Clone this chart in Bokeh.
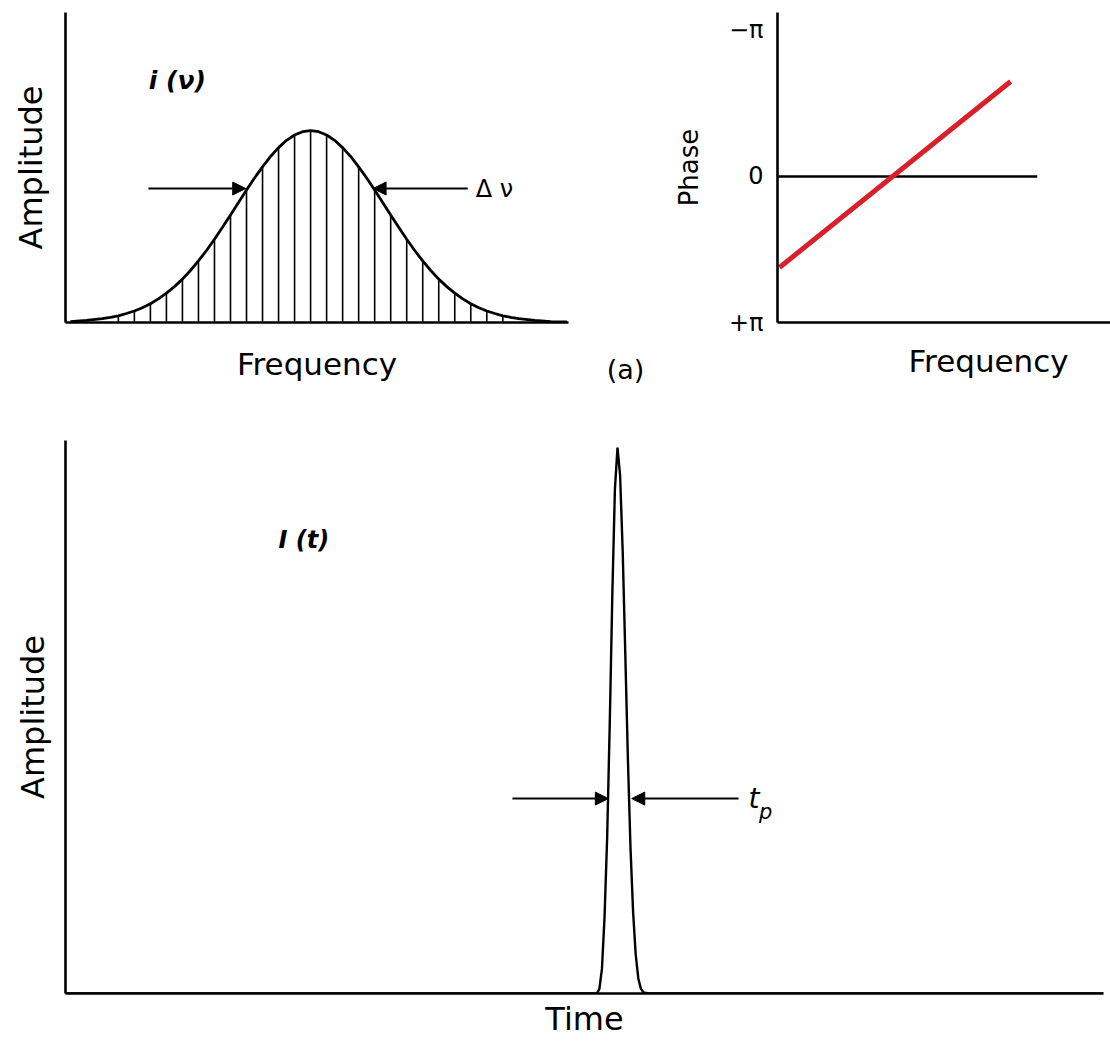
from bokeh.plotting import figure
from bokeh.models import Range1d, Arrow, NormalHead, Label, Title
from bokeh.layouts import column, row
from bokeh.embed import file_html
from bokeh.resources import INLINE

FONT = "DejaVu Sans"

# ---------------- data ----------------
# (a) left: spectrum i(nu) -- longitudinal modes (in units of mode spacing)
mode_freq = [-12, -11, -10, -9, -8, -7, -6, -5, -4, -3, -2, -1, 0,
             1, 2, 3, 4, 5, 6, 7, 8, 9, 10, 11, 12]
mode_amp = [0.035, 0.060, 0.098, 0.153, 0.226, 0.321, 0.434, 0.560, 0.690,
            0.811, 0.911, 0.977, 1.000, 0.977, 0.911, 0.811, 0.690, 0.560,
            0.434, 0.321, 0.226, 0.153, 0.098, 0.060, 0.035]

env_freq = [-15, -14, -13, -12.5, -12, -11.5, -11, -10.5, -10, -9.5, -9, -8.5,
            -8, -7.5, -7, -6.5, -6, -5.5, -5, -4.5, -4, -3.5, -3, -2.5, -2,
            -1.5, -1, -0.5, 0, 0.5, 1, 1.5, 2, 2.5, 3, 3.5, 4, 4.5, 5, 5.5, 6,
            6.5, 7, 7.5, 8, 8.5, 9, 9.5, 10, 10.5, 11, 11.5, 12, 12.5, 13, 14,
            15, 16]
env_amp = [0.005, 0.011, 0.020, 0.027, 0.035, 0.047, 0.060, 0.077, 0.098,
           0.123, 0.153, 0.187, 0.226, 0.271, 0.321, 0.375, 0.434, 0.496,
           0.560, 0.625, 0.690, 0.753, 0.811, 0.865, 0.911, 0.949, 0.977,
           0.994, 1.000, 0.994, 0.977, 0.949, 0.911, 0.865, 0.811, 0.753,
           0.690, 0.625, 0.560, 0.496, 0.434, 0.375, 0.321, 0.271, 0.226,
           0.187, 0.153, 0.123, 0.098, 0.077, 0.060, 0.047, 0.035, 0.027,
           0.020, 0.011, 0.005, 0.003]

# (a) right: phase (in units of pi) vs frequency (0..1)
phase_freq = [0.006, 0.70]
phase_val = [0.623, -0.65]
zero_freq = [0.0, 0.78]
zero_val = [0.0, 0.0]
phase_ticks = [-1, 0, 1]
phase_tick_labels = {-1: "\u2212\u03c0", 0: "0", 1: "+\u03c0"}

# bottom: pulse I(t)
pulse_t = [0, 51.18, 51.43, 51.68, 51.93, 52.18, 52.43, 52.68, 52.93,
           53.18, 53.43, 53.68, 53.93, 54.18, 54.43, 54.68, 54.93, 55.18,
           55.43, 55.68, 56.18, 100]
pulse_amp = [0, 0, 0.008, 0.045, 0.140, 0.284, 0.492, 0.730, 0.924,
             1.000, 0.949, 0.810, 0.622, 0.430, 0.268, 0.150, 0.072, 0.028,
             0.009, 0.002, 0, 0]

HAS_STANDOFF = "standoff" in Title.properties()


def style_axis(ax, label_size="32px"):
    ax.axis_line_color = "black"
    ax.axis_line_width = 2.6
    ax.major_tick_line_color = None
    ax.minor_tick_line_color = None
    ax.axis_label_text_font = FONT
    ax.axis_label_text_font_style = "normal"
    ax.axis_label_text_font_size = label_size
    ax.axis_label_text_color = "black"


def base_fig(**kw):
    p = figure(output_backend="svg", toolbar_location=None, **kw)
    p.grid.visible = False
    p.outline_line_color = None
    p.background_fill_color = "white"
    p.border_fill_color = "white"
    return p


def arrow(p, x0, x1, y):
    p.add_layout(Arrow(end=NormalHead(size=13, fill_color="black",
                                      line_color="black", line_width=1),
                       x_start=x0, y_start=y, x_end=x1, y_end=y,
                       line_color="black", line_width=2))


def label(p, x, y, text, size, style="normal", align="left"):
    p.add_layout(Label(x=x, y=y, text=text, text_font=FONT,
                       text_font_size=size, text_font_style=style,
                       text_align=align, text_baseline="middle",
                       text_color="black"))


def title_below(p, text, size, align, offset, standoff):
    kw = dict(text=text, align=align, offset=offset, text_font=FONT,
              text_font_size=size, text_font_style="normal",
              text_color="black")
    if HAS_STANDOFF:
        kw["standoff"] = standoff
    p.add_layout(Title(**kw), "below")


TOP_H = 417      # height of the top row
TOP_BB = 95      # bottom border of the top row

# ---------------- top-left: spectrum ----------------
p1 = base_fig(width=600, height=TOP_H,
              x_range=Range1d(-15.3, 16.1), y_range=Range1d(0, 1.615),
              min_border_left=65, min_border_right=32,
              min_border_top=12, min_border_bottom=TOP_BB)
for ax in (p1.xaxis[0], p1.yaxis[0]):
    style_axis(ax)
    ax.ticker = []
p1.xaxis.axis_label = "Frequency"
p1.xaxis.axis_label_text_font_size = "31px"
p1.yaxis.axis_label = "Amplitude"
p1.xaxis.axis_label_standoff = 23
p1.yaxis.axis_label_standoff = 16
p1.segment(x0=mode_freq, y0=[0] * len(mode_freq), x1=mode_freq, y1=mode_amp,
           line_color="black", line_width=1.6)
p1.line(env_freq, env_amp, line_color="black", line_width=2.8)
arrow(p1, -10.125, -4.05, 0.698)
arrow(p1, 9.81, 3.9, 0.698)
label(p1, -10.1, 1.26, "i (\u03bd)", "25px", style="bold italic")
label(p1, 10.31, 0.698, "\u0394 \u03bd", "24px")

# ---------------- narrow column holding the "(a)" tag ----------------
pa = figure(output_backend="svg", toolbar_location=None, width=50,
            height=TOP_H, x_range=Range1d(0, 1), y_range=Range1d(0, 1),
            x_axis_type=None, y_axis_type=None,
            min_border_left=0, min_border_right=0,
            min_border_top=12, min_border_bottom=TOP_BB)
pa.grid.visible = False
pa.outline_line_color = None
title_below(pa, "(a)", "27px", "center", 0, 59)

# ---------------- top-right: phase ----------------
p2 = base_fig(width=460, height=TOP_H,
              x_range=Range1d(0, 1), y_range=Range1d(1, -1.123),
              min_border_left=127, min_border_right=0,
              min_border_top=12, min_border_bottom=TOP_BB)
style_axis(p2.xaxis[0])
p2.xaxis.ticker = []
style_axis(p2.yaxis[0], label_size="26px")
p2.yaxis.ticker = phase_ticks
p2.yaxis.major_label_overrides = phase_tick_labels
p2.yaxis.major_label_text_font = FONT
p2.yaxis.major_label_text_font_size = "24px"
p2.yaxis.major_label_text_color = "black"
p2.yaxis.major_label_standoff = 14
p2.yaxis.major_tick_out = 0
p2.yaxis.major_tick_in = 0
p2.yaxis.axis_label = "Phase"
p2.yaxis.axis_label_standoff = 22
p2.line(zero_freq, zero_val, line_color="black", line_width=2.5)
p2.line(phase_freq, phase_val, line_color="#d9202a", line_width=5)
title_below(p2, "Frequency", "31px", "left", 131, 37)

# ---------------- bottom: pulse ----------------
p3 = base_fig(width=1110, height=1041 - TOP_H,
              x_range=Range1d(0, 100), y_range=Range1d(0, 1.013),
              min_border_left=65, min_border_right=7,
              min_border_top=440 - TOP_H, min_border_bottom=48)
for ax in (p3.xaxis[0], p3.yaxis[0]):
    style_axis(ax)
    ax.ticker = []
p3.xaxis.axis_label = "Time"
p3.yaxis.axis_label = "Amplitude"
p3.xaxis.axis_label_standoff = 6
p3.yaxis.axis_label_standoff = 14
p3.line(pulse_t, pulse_amp, line_color="black", line_width=2.4)
arrow(p3, 43.06, 52.3, 0.357)
arrow(p3, 64.84, 54.55, 0.357)
label(p3, 20.52, 0.830, "I (t)", "24px", style="bold italic")
label(p3, 65.8, 0.357, "t", "28px", style="italic")
label(p3, 66.8, 0.333, "p", "21px", style="italic")

layout = column(row(p1, pa, p2), p3)
open("out.html", "w").write(file_html(layout, INLINE))
